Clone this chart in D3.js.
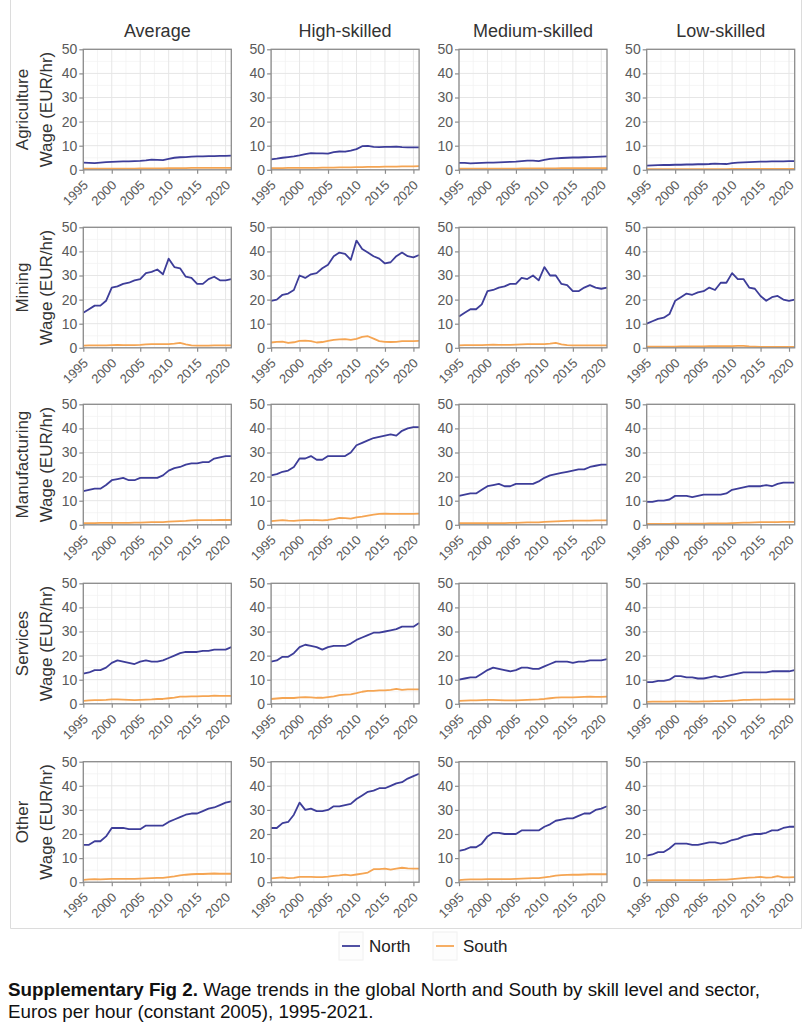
<!DOCTYPE html>
<html>
<head>
<meta charset="utf-8">
<script src="https://cdn.jsdelivr.net/npm/d3@7"></script>
<style>
  body { margin: 0; background: #fff; }
  svg { display: block; font-family: "Liberation Sans", Arial, sans-serif; }
</style>
</head>
<body>
<svg id="chart" width="805" height="1024"></svg>
<script>
// ==========================
// DATA
// ==========================
const years = [1995, 1996, 1997, 1998, 1999, 2000, 2001, 2002, 2003, 2004, 2005, 2006, 2007, 2008, 2009,
               2010, 2011, 2012, 2013, 2014, 2015, 2016, 2017, 2018, 2019, 2020, 2021];
const skills = ["Average", "High-skilled", "Medium-skilled", "Low-skilled"];
const sectors = ["Agriculture", "Mining", "Manufacturing", "Services", "Other"];
const xTicks = [1995, 2000, 2005, 2010, 2015, 2020];
const yTicks = [0, 10, 20, 30, 40, 50];
const regions = ["North", "South"];

// Agriculture
const agriAvgN  = [3.0,2.9,2.8,3.0,3.2,3.3,3.4,3.5,3.5,3.6,3.7,3.9,4.2,4.1,4.0,4.5,5.0,5.2,5.3,5.5,5.6,5.6,5.7,5.7,5.8,5.8,5.9];
const agriAvgS  = [0.5,0.5,0.5,0.5,0.5,0.5,0.5,0.5,0.5,0.5,0.6,0.6,0.6,0.6,0.6,0.7,0.7,0.7,0.7,0.8,0.8,0.8,0.8,0.8,0.8,0.8,0.8];
const agriHighN = [4.3,4.6,5.0,5.3,5.6,6.0,6.5,6.9,6.8,6.8,6.7,7.3,7.6,7.5,8.0,8.6,9.8,9.9,9.5,9.4,9.5,9.5,9.6,9.4,9.3,9.3,9.3];
const agriHighS = [0.7,0.7,0.7,0.8,0.8,0.8,0.8,0.8,0.8,0.9,0.9,0.9,1.0,1.0,1.0,1.1,1.1,1.2,1.2,1.2,1.3,1.3,1.3,1.4,1.4,1.4,1.5];
const agriMedN  = [2.9,2.9,2.7,2.8,2.9,3.0,3.0,3.1,3.2,3.3,3.4,3.6,3.8,3.8,3.6,4.1,4.5,4.7,4.9,5.0,5.1,5.1,5.2,5.3,5.4,5.5,5.6];
const agriMedS  = [0.5,0.5,0.5,0.5,0.5,0.5,0.5,0.5,0.5,0.5,0.5,0.6,0.6,0.6,0.6,0.6,0.6,0.6,0.7,0.7,0.7,0.7,0.7,0.7,0.7,0.7,0.7];
const agriLowN  = [1.7,1.8,1.9,2.0,2.0,2.1,2.1,2.2,2.2,2.3,2.3,2.4,2.6,2.5,2.4,2.8,3.0,3.1,3.2,3.3,3.4,3.4,3.5,3.5,3.5,3.6,3.6];
const agriLowS  = [0.3,0.3,0.3,0.3,0.3,0.3,0.3,0.3,0.3,0.3,0.3,0.3,0.3,0.3,0.3,0.4,0.4,0.4,0.4,0.4,0.4,0.4,0.4,0.4,0.4,0.4,0.4];

// Mining
const minAvgN  = [14.5,16,17.5,17.5,19.5,25,25.5,26.5,27,28,28.5,31,31.5,32.5,30.5,37,33.5,33,29.5,29,26.5,26.5,28.5,29.5,28,28,28.5];
const minAvgS  = [0.9,1.0,1.0,1.0,1.0,1.1,1.2,1.1,1.1,1.1,1.2,1.4,1.5,1.5,1.5,1.5,1.7,2.0,1.4,1.0,0.9,0.9,0.9,1.0,1.0,1.0,1.0];
const minHighN = [19.5,20,22,22.5,24,30,29,30.5,31,33,34.5,38,39.5,39,36.5,44.5,41,39.5,38,37,35,35.5,38,39.5,38,37.5,38.5];
const minHighS = [2.2,2.5,2.6,2.0,2.3,2.9,3.0,2.8,2.2,2.4,2.9,3.3,3.5,3.6,3.3,3.7,4.5,4.8,3.8,2.8,2.5,2.4,2.5,2.8,2.8,2.8,2.9];
const minMedN  = [13,14.5,16,16,18,23.5,24,25,25.5,26.5,26.5,29,28.5,30,28,33.5,30,30,26.5,26,23.5,23.5,25,26,25,24.5,25];
const minMedS  = [1.0,1.1,1.1,1.1,1.1,1.2,1.3,1.2,1.2,1.2,1.3,1.4,1.5,1.5,1.5,1.5,1.7,2.0,1.4,1.1,1.0,1.0,1.0,1.0,1.0,1.0,1.0];
const minLowN  = [10,11,12,12.5,14,19.5,21,22.5,22,23,23.5,25,24,27,27,31,28.5,28.5,25,24.5,21.5,19.5,21,21.5,20,19.5,20];
const minLowS  = [0.5,0.5,0.5,0.5,0.5,0.5,0.6,0.6,0.6,0.6,0.6,0.7,0.7,0.7,0.7,0.7,0.8,0.8,0.6,0.5,0.4,0.4,0.4,0.4,0.4,0.4,0.4];

// Manufacturing
const manAvgN  = [14,14.5,15,15,16.5,18.5,19,19.5,18.5,18.5,19.5,19.5,19.5,19.5,20.5,22.5,23.5,24,25,25.5,25.5,26,26,27.5,28,28.5,28.5];
const manAvgS  = [0.7,0.7,0.7,0.8,0.8,0.8,0.8,0.8,0.8,0.9,0.9,1.0,1.1,1.1,1.1,1.3,1.4,1.5,1.6,1.8,1.9,1.9,1.9,1.9,2.0,2.0,2.0];
const manHighN = [20.5,21,22,22.5,24,27.5,27.5,28.5,27,27,28.5,28.5,28.5,28.5,30,33,34,35,36,36.5,37,37.5,37,39,40,40.5,40.5];
const manHighS = [1.5,1.7,1.9,1.7,1.6,1.8,1.9,1.9,1.9,1.8,2.0,2.4,2.9,2.8,2.6,3.1,3.4,3.8,4.2,4.5,4.6,4.5,4.5,4.5,4.5,4.5,4.6];
const manMedN  = [12,12.5,13,13,14.5,16,16.5,17,16,16,17,17,17,17,18,19.5,20.5,21,21.5,22,22.5,23,23,24,24.5,25,25];
const manMedS  = [0.7,0.7,0.7,0.7,0.7,0.7,0.7,0.7,0.7,0.8,0.8,0.9,1.0,1.0,1.0,1.2,1.3,1.4,1.5,1.6,1.7,1.7,1.7,1.7,1.8,1.8,1.8];
const manLowN  = [9.5,9.5,10,10,10.5,12,12,12,11.5,12,12.5,12.5,12.5,12.5,13,14.5,15,15.5,16,16,16,16.5,16,17,17.5,17.5,17.5];
const manLowS  = [0.4,0.4,0.4,0.4,0.4,0.5,0.5,0.5,0.5,0.5,0.5,0.6,0.6,0.6,0.6,0.7,0.8,0.9,0.9,1.0,1.1,1.1,1.1,1.1,1.2,1.2,1.2];

// Services
const serAvgN  = [12.5,13,14,14,15,17,18,17.5,17,16.5,17.5,18,17.5,17.5,18,19,20,21,21.5,21.5,21.5,22,22,22.5,22.5,22.5,23.5];
const serAvgS  = [1.2,1.4,1.5,1.5,1.6,1.8,1.8,1.7,1.6,1.5,1.6,1.7,1.8,2.0,2.0,2.3,2.6,3.0,3.0,3.1,3.1,3.2,3.2,3.4,3.3,3.3,3.3];
const serHighN = [17.5,18,19.5,19.5,21,23.5,24.5,24,23.5,22.5,23.5,24,24,24,25,26.5,27.5,28.5,29.5,29.5,30,30.5,31,32,32,32,33.5];
const serHighS = [2.0,2.2,2.4,2.4,2.4,2.7,2.8,2.7,2.5,2.5,2.8,3.1,3.6,3.8,3.9,4.4,5.0,5.4,5.4,5.6,5.6,5.8,6.2,5.8,6.0,6.0,6.0];
const serMedN  = [10,10.5,11,11,12.5,14,15,14.5,14,13.5,14,15,15,14.5,14.5,15.5,16.5,17.5,17.5,17.5,17,17.5,17.5,18,18,18,18.5];
const serMedS  = [1.2,1.3,1.4,1.4,1.5,1.6,1.6,1.5,1.4,1.4,1.4,1.5,1.6,1.7,1.8,2.0,2.3,2.6,2.7,2.7,2.7,2.8,2.9,3.0,2.9,2.9,3.0];
const serLowN  = [9,9,9.5,9.5,10,11.5,11.5,11,11,10.5,10.5,11,11.5,11,11.5,12,12.5,13,13,13,13,13,13.5,13.5,13.5,13.5,14];
const serLowS  = [0.8,0.9,0.9,0.9,0.9,1.0,1.0,1.0,0.9,0.9,1.0,1.0,1.1,1.1,1.2,1.3,1.4,1.6,1.6,1.7,1.7,1.7,1.8,1.8,1.8,1.8,1.8];

// Other
const othAvgN  = [15.5,15.5,17,17,19,22.5,22.5,22.5,22,22,22,23.5,23.5,23.5,23.5,25,26,27,28,28.5,28.5,29.5,30.5,31,32,33,33.5];
const othAvgS  = [1.0,1.2,1.3,1.2,1.3,1.4,1.4,1.4,1.4,1.4,1.5,1.6,1.7,1.8,1.8,2.1,2.4,2.8,3.1,3.3,3.4,3.4,3.5,3.6,3.5,3.5,3.5];
const othHighN = [22.5,22.5,24.5,25,28,33,30,30.5,29.5,29.5,30,31.5,31.5,32,32.5,34.5,36,37.5,38,39,39,40,41,41.5,43,44,45];
const othHighS = [1.6,1.8,2.0,1.7,1.8,2.2,2.2,2.2,2.1,2.1,2.3,2.6,2.8,3.1,2.8,3.2,3.6,4.0,5.4,5.4,5.6,5.2,5.6,6.0,5.7,5.6,5.6];
const othMedN  = [13,13.5,14.5,14.5,16,19,20.5,20.5,20,20,20,21.5,21.5,21.5,21.5,23,24,25.5,26,26.5,26.5,27.5,28.5,28.5,30,30.5,31.5];
const othMedS  = [0.9,1.1,1.2,1.2,1.2,1.3,1.3,1.3,1.3,1.3,1.4,1.5,1.6,1.7,1.7,2.0,2.3,2.7,2.9,3.0,3.1,3.1,3.2,3.3,3.3,3.3,3.3];
const othLowN  = [11,11.5,12.5,12.5,14,16,16,16,15.5,15.5,16,16.5,16.5,16,16.5,17.5,18,19,19.5,20,20,20.5,21.5,21.5,22.5,23,23];
const othLowS  = [0.7,0.8,0.8,0.8,0.8,0.9,0.9,0.9,0.9,0.9,0.9,1.0,1.0,1.1,1.1,1.3,1.5,1.7,1.9,2.0,2.2,1.9,2.0,2.5,2.0,2.0,2.1];

// grid of series: [sector][skill] -> [north, south]
const panels = [
    [[agriAvgN, agriAvgS], [agriHighN, agriHighS], [agriMedN, agriMedS], [agriLowN, agriLowS]],
    [[minAvgN, minAvgS], [minHighN, minHighS], [minMedN, minMedS], [minLowN, minLowS]],
    [[manAvgN, manAvgS], [manHighN, manHighS], [manMedN, manMedS], [manLowN, manLowS]],
    [[serAvgN, serAvgS], [serHighN, serHighS], [serMedN, serMedS], [serLowN, serLowS]],
    [[othAvgN, othAvgS], [othHighN, othHighS], [othMedN, othMedS], [othLowN, othLowS]]
];

// ==========================
// LAYOUT
// ==========================
const svg = d3.select("#chart");
const colors = { North: "#3d3d99", South: "#f5a553" };
const colLeft = [83.3, 271.1, 459, 646.7];
const rowTop = [49.3, 227.3, 404.3, 583.3, 761.7];
const pw = 148, ph = 120.5;
const axisGrey = "#8c8c8c";

svg.append("rect").attr("width", 805).attr("height", 1024).attr("fill", "#fff");

// light frame around the figure
svg.append("path")
    .attr("d", "M10.5,0 V928.5 H801.5 V0")
    .attr("fill", "none")
    .attr("stroke", "#dcdcdc")
    .attr("stroke-width", 1);

const x = d3.scaleLinear().domain([1995, 2021]).range([0, pw]);
const y = d3.scaleLinear().domain([0, 50]).range([ph, 0]);
const line = d3.line().x((d, i) => x(years[i])).y(d => y(d));

const xMinor = xTicks.map(t => t + 2.5).filter(t => t < 2021);
const yMinor = yTicks.slice(1).map(t => t - 5);

sectors.forEach((sector, r) => {
    skills.forEach((skill, c) => {
        const g = svg.append("g").attr("transform", `translate(${colLeft[c]},${rowTop[r]})`);

        // minor + major grid
        g.selectAll(".xminor").data(xMinor).enter().append("line")
            .attr("x1", d => x(d)).attr("x2", d => x(d)).attr("y1", 0).attr("y2", ph)
            .attr("stroke", "#f1f1f1").attr("stroke-width", 0.7);
        g.selectAll(".yminor").data(yMinor).enter().append("line")
            .attr("y1", d => y(d)).attr("y2", d => y(d)).attr("x1", 0).attr("x2", pw)
            .attr("stroke", "#f1f1f1").attr("stroke-width", 0.7);
        g.selectAll(".xmajor").data(xTicks).enter().append("line")
            .attr("x1", d => x(d)).attr("x2", d => x(d)).attr("y1", 0).attr("y2", ph)
            .attr("stroke", "#e6e6e6").attr("stroke-width", 1);
        g.selectAll(".ymajor").data(yTicks).enter().append("line")
            .attr("y1", d => y(d)).attr("y2", d => y(d)).attr("x1", 0).attr("x2", pw)
            .attr("stroke", "#e6e6e6").attr("stroke-width", 1);

        // series
        const pair = panels[r][c];
        regions.forEach((reg, k) => {
            g.append("path")
                .datum(pair[k])
                .attr("d", line)
                .attr("fill", "none")
                .attr("stroke", colors[reg])
                .attr("stroke-width", 1.8)
                .attr("stroke-linejoin", "round");
        });

        // panel border
        g.append("rect").attr("width", pw).attr("height", ph)
            .attr("fill", "none").attr("stroke", axisGrey).attr("stroke-width", 1.3);

        // y axis
        const ya = g.append("g").call(d3.axisLeft(y).tickValues(yTicks).tickSize(4).tickPadding(2));
        ya.select(".domain").remove();
        ya.selectAll("line").attr("stroke", axisGrey).attr("stroke-width", 1.2);
        ya.selectAll("text").attr("font-size", 14).attr("fill", "#5a5a5a")
            .attr("font-family", "Liberation Sans, Arial, sans-serif");

        // x axis
        const xa = g.append("g").attr("transform", `translate(0,${ph})`)
            .call(d3.axisBottom(x).tickValues(xTicks).tickFormat(d3.format("d")).tickSize(4));
        xa.select(".domain").remove();
        xa.selectAll("line").attr("stroke", axisGrey).attr("stroke-width", 1.2);
        xa.selectAll("text")
            .attr("font-size", 13).attr("fill", "#5a5a5a")
            .attr("font-family", "Liberation Sans, Arial, sans-serif")
            .attr("text-anchor", "end")
            .attr("y", 0).attr("dy", 0)
            .attr("transform", "translate(5,16) rotate(-45)");

        // column titles on top row
        if (r === 0) {
            svg.append("text")
                .attr("x", colLeft[c] + pw / 2).attr("y", rowTop[0] - 12)
                .attr("text-anchor", "middle").attr("font-size", 18).attr("fill", "#333")
                .text(skill);
        }
    });

    // row labels
    const cy = rowTop[r] + ph / 2;
    svg.append("text")
        .attr("transform", `translate(28,${cy}) rotate(-90)`)
        .attr("text-anchor", "middle").attr("font-size", 17).attr("fill", "#333")
        .text(sector);
    svg.append("text")
        .attr("transform", `translate(52,${cy}) rotate(-90)`)
        .attr("text-anchor", "middle").attr("font-size", 17).attr("fill", "#333")
        .text("Wage (EUR/hr)");
});

// ==========================
// LEGEND
// ==========================
const legend = svg.append("g").attr("transform", "translate(0,946)");
const legendX = [340, 434];
regions.forEach((reg, i) => {
    const lg = legend.append("g").attr("transform", `translate(${legendX[i]},0)`);
    lg.append("rect").attr("x", -1).attr("y", -14).attr("width", 24).attr("height", 28)
        .attr("fill", "#fdfdfd").attr("stroke", "#f0f0f0");
    lg.append("line").attr("x1", 2).attr("x2", 20).attr("y1", 0).attr("y2", 0)
        .attr("stroke", colors[reg]).attr("stroke-width", 1.8);
    lg.append("text").attr("x", 29).attr("y", 0).attr("dy", "0.35em")
        .attr("font-size", 17).attr("fill", "#222").text(reg);
});

// ==========================
// CAPTION
// ==========================
const cap1 = svg.append("text").attr("x", 8).attr("y", 996).attr("font-size", 18.8).attr("fill", "#111");
cap1.append("tspan").attr("font-weight", "bold").text("Supplementary Fig 2.");
cap1.append("tspan").text(" Wage trends in the global North and South by skill level and sector,");
svg.append("text").attr("x", 8).attr("y", 1018).attr("font-size", 18.8).attr("fill", "#111")
    .text("Euros per hour (constant 2005), 1995-2021.");
</script>
</body>
</html>
